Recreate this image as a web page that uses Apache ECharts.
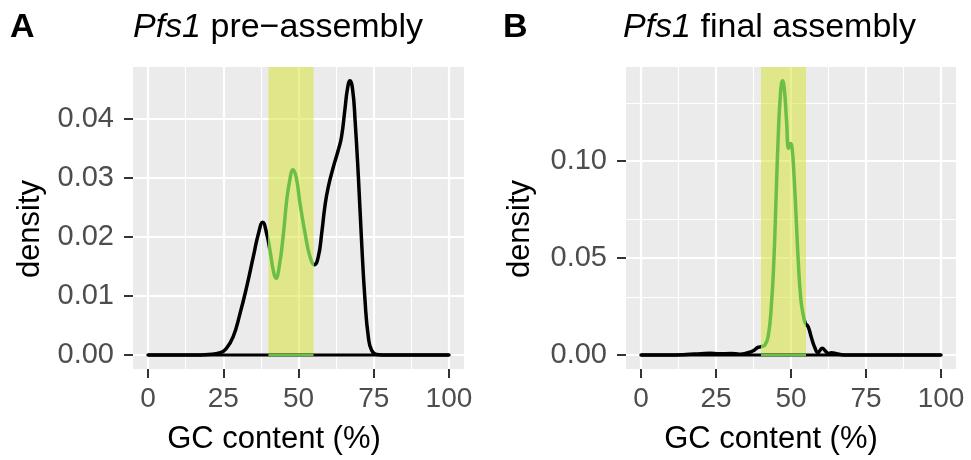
<!DOCTYPE html>
<html>
<head>
<meta charset="utf-8">
<script src="https://cdn.jsdelivr.net/npm/echarts@6/dist/echarts.min.js"></script>
<style>
  html, body { margin: 0; padding: 0; background: #ffffff; }
  #chart { width: 971px; height: 460px; }
</style>
</head>
<body>
<div id="chart"></div>
<script>
// GC-content density, pre-assembly reads
const gcA   = [0, 15, 20, 24, 26, 28.3, 30.6, 32.8, 35.0, 36.7, 38.1, 39.4, 40.5, 41.6, 42.5, 43.6, 45.0, 46.1, 47.2, 48.1,
               49.2, 50.5, 52.2, 53.8, 55.3, 56.6, 57.7, 58.8, 59.9, 61.6, 63.2, 64.3, 65.4, 66.3, 67.1, 68.0, 68.8, 69.9,
               71.0, 72.1, 73.2, 74.3, 76.0, 80, 100];
const densA = [0, 0, 0.0001, 0.0004, 0.0011, 0.0031, 0.0071, 0.0116, 0.0167, 0.0206, 0.0225, 0.0206, 0.0178, 0.0144, 0.0130, 0.0150, 0.0206, 0.0263, 0.0299, 0.0314,
               0.0302, 0.0257, 0.0206, 0.0167, 0.0153, 0.0167, 0.0206, 0.0253, 0.0285, 0.0319, 0.0347, 0.0370, 0.0415, 0.0452, 0.0465, 0.0449, 0.0398, 0.0302,
               0.0189, 0.0093, 0.0031, 0.0008, 0.0001, 0, 0];

// GC-content density, final assembly
const gcB   = [0, 10, 15, 20, 23, 26, 30, 33, 35.7, 37.4, 38.5, 39.1, 40.0, 41.3, 42.4, 43.5, 44.3, 45.0, 45.7, 46.5,
               47.2, 47.8, 48.5, 49.2, 49.8, 50.3, 50.9, 51.6, 52.4, 53.3, 54.2, 54.8, 55.7, 56.8, 57.9, 59.0, 60.4, 61.5,
               62.5, 63.5, 65.2, 66.5, 68, 100];
const densB = [0, 0, 0.0003, 0.0007, 0.0009, 0.0006, 0.0008, 0.0004, 0.0012, 0.0022, 0.0035, 0.0040, 0.0043, 0.0052, 0.0095, 0.0266, 0.0490, 0.0799, 0.1108, 0.1349,
               0.1414, 0.1366, 0.1211, 0.1065, 0.1090, 0.1074, 0.0954, 0.0747, 0.0490, 0.0284, 0.0198, 0.0163, 0.0146, 0.0090, 0.0040, 0.0012, 0.0035, 0.0020,
               0.0008, 0.0012, 0.0006, 0.0003, 0, 0];

// highlighted GC window (%)
const band = [40, 55];

// axis ticks
const xTicks  = [0, 25, 50, 75, 100];
const yTicksA = [0, 0.01, 0.02, 0.03, 0.04];
const yTicksB = [0, 0.05, 0.10];

// panel texts
const tags      = ['A', 'B'];
const species   = 'Pfs1';
const subtitles = ['pre\u2212assembly', 'final assembly'];
const xTitle    = 'GC content (%)';
const yTitle    = 'density';

const FONT  = '"Liberation Sans", Arial, Helvetica, sans-serif';
const GREEN = '#6cbf45';
const PANEL_BG = '#ebebeb';
const TOP = 67, HEIGHT = 302;

const panels = [
  { gc: gcA, dens: densA, yTicks: yTicksA, yMin: -0.00237, yMax: 0.04881, left: 133, width: 331,
    tagX: 10, titleX: 133, xTitleX: 274, yTitleX: 30 },
  { gc: gcB, dens: densB, yTicks: yTicksB, yMin: -0.00722, yMax: 0.14845, left: 626, width: 330,
    tagX: 503, titleX: 623, xTitleX: 771, yTitleX: 520 }
];

// minor grid positions half-way between major ticks, kept inside the axis range
function minorOf(ticks, lo, hi) {
  const step = ticks[1] - ticks[0];
  const out = [];
  for (let i = -1; i < ticks.length; i++) {
    const v = +(ticks[0] + (i + 0.5) * step).toFixed(6);
    if (v > lo && v < hi) out.push(v);
  }
  return out;
}

const grids = [], xAxes = [], yAxes = [], series = [], visualMaps = [], graphics = [];

panels.forEach((p, i) => {
  grids.push({
    left: p.left, top: TOP, width: p.width, height: HEIGHT,
    show: true, backgroundColor: PANEL_BG, borderWidth: 0, containLabel: false
  });

  xAxes.push({
    type: 'value', gridIndex: i, min: -5, max: 105,
    axisLine: { show: false, onZero: false },
    axisTick: { show: true, length: 9, customValues: xTicks, lineStyle: { color: '#333333', width: 2 } },
    axisLabel: { customValues: xTicks, fontSize: 28, color: '#4d4d4d', fontFamily: FONT, margin: 16 },
    splitLine: { show: false }
  });

  yAxes.push({
    type: 'value', gridIndex: i, min: p.yMin, max: p.yMax,
    axisLine: { show: false, onZero: false },
    axisTick: { show: true, length: 9, customValues: p.yTicks, lineStyle: { color: '#333333', width: 2 } },
    axisLabel: { customValues: p.yTicks, fontSize: 29, color: '#4d4d4d', fontFamily: FONT, margin: 19,
                 formatter: v => v.toFixed(2) },
    splitLine: { show: false }
  });

  const minorX = minorOf(xTicks, -5, 105);
  const minorY = minorOf(p.yTicks, p.yMin, p.yMax);
  const gridData = []
    .concat(minorX.map(v => ({ xAxis: v, lineStyle: { width: 1.1 } })))
    .concat(minorY.map(v => ({ yAxis: v, lineStyle: { width: 1.1 } })))
    .concat(xTicks.map(v => ({ xAxis: v, lineStyle: { width: 2.2 } })))
    .concat(p.yTicks.map(v => ({ yAxis: v, lineStyle: { width: 2.2 } })));

  // white panel grid
  series.push({
    type: 'line', xAxisIndex: i, yAxisIndex: i, data: [], z: 1, silent: true,
    markLine: {
      z: 1, silent: true, symbol: ['none', 'none'], animation: false,
      label: { show: false },
      lineStyle: { color: '#ffffff', type: 'solid' },
      data: gridData
    }
  });

  // shaded GC window
  series.push({
    type: 'line', xAxisIndex: i, yAxisIndex: i, data: [], z: 2, silent: true,
    markArea: {
      z: 2, silent: true, animation: false,
      itemStyle: { color: 'rgba(213, 225, 41, 0.5)' },
      data: [[{ xAxis: band[0], yAxis: 0 }, { xAxis: band[1], yAxis: p.yMax }]]
    }
  });

  // density outline baseline
  series.push({
    type: 'line', xAxisIndex: i, yAxisIndex: i, z: 3, silent: true,
    showSymbol: false, lineStyle: { color: '#000000', width: 3 },
    data: [[p.gc[0], 0], [p.gc[p.gc.length - 1], 0]]
  });
  series.push({
    type: 'line', xAxisIndex: i, yAxisIndex: i, z: 4, silent: true,
    showSymbol: false, lineStyle: { color: GREEN, width: 2.5 },
    data: [[band[0], 0], [band[1], 0]]
  });

  // density curve
  const curveIndex = series.length;
  series.push({
    type: 'line', xAxisIndex: i, yAxisIndex: i, z: 5, silent: true,
    smooth: 0.5, showSymbol: false,
    lineStyle: { width: 3.5, cap: 'round', join: 'round' },
    data: p.gc.map((g, k) => [g, p.dens[k]])
  });
  visualMaps.push({
    type: 'piecewise', show: false, seriesIndex: curveIndex, dimension: 0,
    pieces: [
      { lt: band[0], color: '#000000' },
      { gte: band[0], lte: band[1], color: GREEN },
      { gt: band[1], color: '#000000' }
    ]
  });

  // panel tag and title
  graphics.push({
    type: 'text', left: p.tagX, top: 11,
    style: { text: tags[i], font: 'bold 34px ' + FONT, fill: '#000000' }
  });
  graphics.push({
    type: 'text', left: p.titleX, top: 11,
    style: {
      text: '{it|' + species + '} ' + subtitles[i],
      font: '34px ' + FONT, fill: '#000000',
      rich: { it: { fontStyle: 'italic', fontSize: 34, fontFamily: FONT } }
    }
  });
  // axis titles
  graphics.push({
    type: 'text', x: p.xTitleX, y: 439,
    style: { text: xTitle, font: '31px ' + FONT, fill: '#000000', align: 'center', verticalAlign: 'middle' }
  });
  graphics.push({
    type: 'text', x: p.yTitleX, y: 229, rotation: Math.PI / 2,
    style: { text: yTitle, font: '31px ' + FONT, fill: '#000000', align: 'center', verticalAlign: 'middle' }
  });
});

const chart = echarts.init(document.getElementById('chart'), null, { renderer: 'canvas' });
chart.setOption({
  animation: false,
  backgroundColor: '#ffffff',
  grid: grids,
  xAxis: xAxes,
  yAxis: yAxes,
  visualMap: visualMaps,
  series: series,
  graphic: graphics
});
</script>
</body>
</html>
